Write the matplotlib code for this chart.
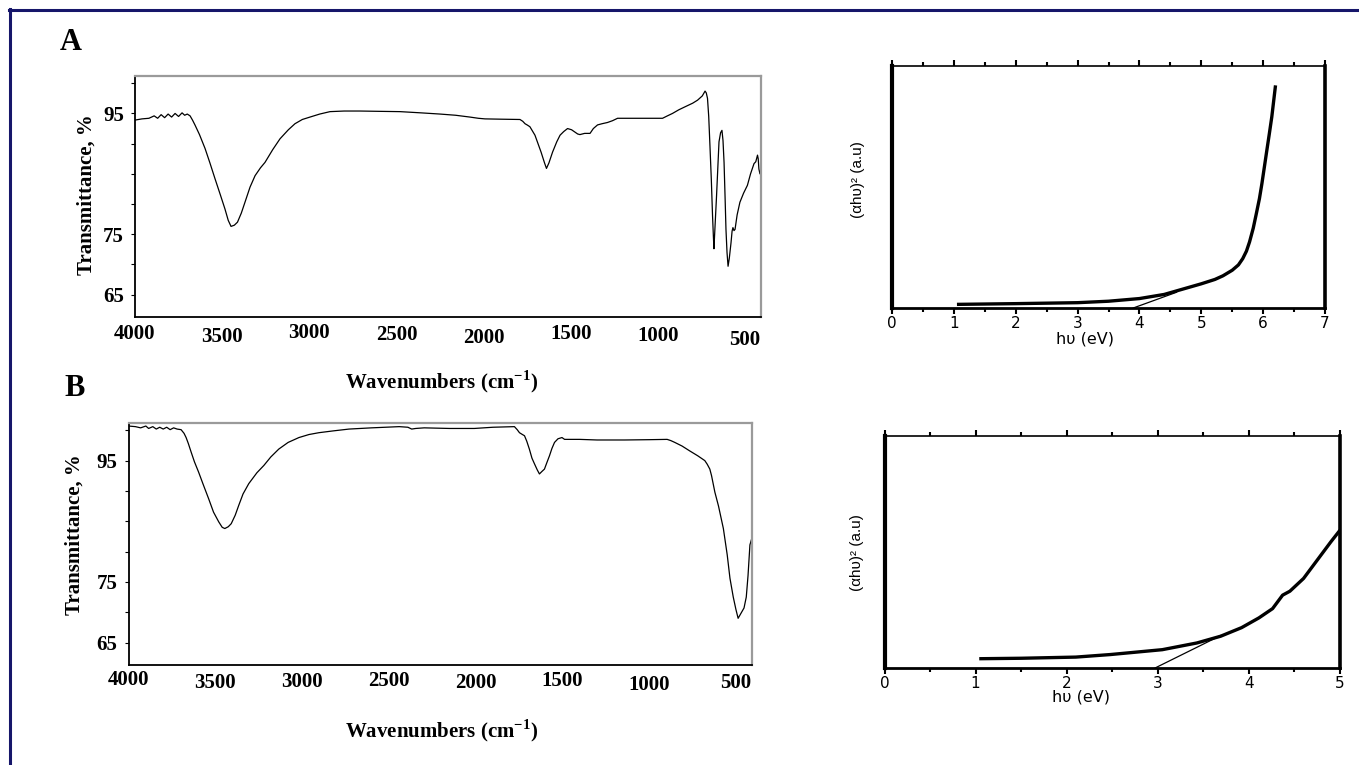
import matplotlib.pyplot as plt
from matplotlib.lines import Line2D
from matplotlib.ticker import MultipleLocator
from matplotlib.transforms import blended_transform_factory

plt.rcParams['mathtext.fontset'] = 'custom'
plt.rcParams['mathtext.rm'] = 'Liberation Serif:bold'
plt.rcParams['mathtext.bf'] = 'Liberation Serif:bold'

W, H = 1359, 765
NAVY = '#16166a'
GREY = '#9a9a9a'

# --- FTIR, panel A ---
wn_a = [4000, 3960, 3920, 3890, 3870, 3850, 3830, 3810, 3790, 3770, 3750, 3730,
        3715, 3700, 3684, 3670, 3656, 3630, 3598, 3570, 3541, 3510, 3484, 3465,
        3449, 3430, 3412, 3390, 3369, 3340, 3311, 3280, 3254, 3210, 3168, 3120,
        3082, 3040, 2996, 2940, 2881, 2800, 2709, 2600, 2479, 2360, 2250, 2160,
        2078, 2030, 1992, 1900, 1791, 1775, 1762, 1750, 1734, 1705, 1670, 1650,
        1639, 1625, 1604, 1580, 1561, 1540, 1518, 1495, 1475, 1460, 1447, 1420,
        1389, 1370, 1346, 1320, 1289, 1260, 1231, 1100, 973, 945, 916, 880, 844,
        800, 772, 745, 729, 722, 715, 708, 701, 693, 686, 681, 678, 674, 663, 655,
        649, 640, 632, 626, 620, 614, 609, 603, 597, 590, 580, 574, 569, 563, 557,
        545, 529, 508, 486, 468, 448, 438, 428, 424, 420, 414, 408]
t_a = [93.9, 94.1, 94.2, 94.6, 94.2, 94.8, 94.3, 94.9, 94.4, 95.0, 94.5, 95.1,
       94.7, 94.9, 94.6, 93.9, 93.1, 91.5, 89.2, 86.8, 84.2, 81.5, 79.2, 77.3,
       76.3, 76.5, 77.0, 78.5, 80.3, 82.8, 84.7, 86.0, 86.9, 89.0, 90.8, 92.3,
       93.3, 94.0, 94.4, 94.9, 95.3, 95.4, 95.4, 95.35, 95.3, 95.1, 94.9, 94.7,
       94.4, 94.2, 94.1, 94.05, 94.0, 93.7, 93.3, 93.1, 92.8, 91.4, 88.6, 86.8,
       85.9, 86.8, 88.6, 90.3, 91.4, 92.0, 92.5, 92.3, 91.9, 91.6, 91.5, 91.7,
       91.7, 92.5, 93.1, 93.3, 93.5, 93.8, 94.2, 94.2, 94.2, 94.6, 95.0, 95.6, 96.1,
       96.7, 97.2, 97.9, 98.7, 98.4, 97.5, 94.5, 89.7, 84.0, 78.0, 74.5, 72.6, 75.0,
       81.4, 86.5, 90.3, 91.8, 92.2, 90.5, 86.9, 81.0, 75.8, 72.0, 69.7, 71.0, 73.6,
       75.5, 76.1, 75.6, 75.8, 78.2, 80.3, 81.8, 83.1, 85.0, 86.7, 87.0, 88.1, 87.5,
       85.8, 85.0, 85.3]

# --- FTIR, panel B ---
wn_b = [4000, 3960, 3930, 3900, 3884, 3860, 3840, 3820, 3800, 3780, 3760, 3740,
        3720, 3697, 3680, 3668, 3655, 3639, 3620, 3596, 3570, 3538, 3510, 3480,
        3460, 3445, 3425, 3408, 3385, 3365, 3340, 3307, 3260, 3220, 3180, 3134,
        3080, 3018, 2960, 2903, 2820, 2729, 2600, 2440, 2390, 2368, 2345, 2296,
        2150, 2007, 1900, 1776, 1760, 1747, 1730, 1718, 1705, 1690, 1675, 1661,
        1645, 1632, 1618, 1603, 1590, 1574, 1560, 1545, 1525, 1502, 1487, 1400,
        1300, 1141, 1000, 896, 875, 852, 810, 766, 720, 679, 665, 650, 640, 621,
        600, 572, 550, 534, 515, 500, 487, 475, 463, 453, 440, 430, 419, 410]
t_b = [100.7, 100.6, 100.4, 100.7, 100.3, 100.6, 100.2, 100.5, 100.2, 100.5,
       100.1, 100.4, 100.2, 100.1, 99.5, 98.8, 97.8, 96.4, 94.8, 93.1, 91.1, 88.7,
       86.5, 84.9, 84.0, 83.8, 84.1, 84.6, 86.0, 87.6, 89.5, 91.2, 93.0, 94.2,
       95.6, 96.9, 98.0, 98.8, 99.3, 99.6, 99.9, 100.2, 100.4, 100.6, 100.5, 100.2,
       100.3, 100.4, 100.3, 100.3, 100.5, 100.6, 100.1, 99.6, 99.3, 99.1, 98.2,
       96.9, 95.4, 94.5, 93.5, 92.8, 93.2, 93.6, 94.6, 95.8, 97.0, 98.0, 98.6, 98.8,
       98.5, 98.5, 98.4, 98.4, 98.45, 98.5, 98.3, 98.0, 97.4, 96.6, 95.8, 95.0, 94.4,
       93.6, 92.5, 89.8, 87.5, 83.8, 79.5, 75.6, 72.5, 70.5, 69.0, 69.6, 70.2, 70.7,
       72.5, 76.0, 81.1, 82.0]

wn_ticks = [4000, 3500, 3000, 2500, 2000, 1500, 1000, 500]
t_ticks = [95, 75, 65]

# --- Tauc plots ---
hv_a = [1.05, 2.0, 3.0, 3.5, 4.0, 4.4, 4.7, 5.0, 5.22, 5.35, 5.5, 5.6, 5.67,
        5.73, 5.78, 5.84, 5.89, 5.94, 5.98, 6.02, 6.06, 6.1, 6.14, 6.17, 6.2]
ahv_a = [0.015, 0.018, 0.022, 0.028, 0.039, 0.056, 0.078, 0.1, 0.118, 0.133,
         0.156, 0.178, 0.204, 0.235, 0.273, 0.33, 0.39, 0.452, 0.514, 0.583,
         0.652, 0.72, 0.79, 0.855, 0.92]
fit_a_x = [3.9, 4.6]
fit_a_y = [0.0, 0.065]

hv_b = [1.04, 1.5, 2.1, 2.48, 3.05, 3.43, 3.69, 3.92, 4.11, 4.26, 4.37, 4.45,
        4.6, 4.75, 4.9, 5.0]
ahv_b = [0.040, 0.042, 0.047, 0.058, 0.079, 0.108, 0.137, 0.174, 0.216, 0.256,
         0.314, 0.331, 0.386, 0.465, 0.544, 0.594]
fit_b_x = [2.97, 3.69]
fit_b_y = [0.0, 0.14]


def box(left, top, right, bottom):
    return [left / W, 1 - bottom / H, (right - left) / W, (bottom - top) / H]


def px(x, y):
    return x / W, 1 - y / H


fig = plt.figure(figsize=(W / 100, H / 100), dpi=100)
fig.patch.set_facecolor('white')

# navy frame (only top and left visible)
fig.add_artist(Line2D([9 / W, 1], [1 - 9.5 / H, 1 - 9.5 / H], color=NAVY, lw=2.2,
                      transform=fig.transFigure))
fig.add_artist(Line2D([9.5 / W, 9.5 / W], [0, 1 - 9 / H], color=NAVY, lw=2.2,
                      transform=fig.transFigure))


def ftir(rect, wn, t, xmax_right, lab_dy, xlab_y, ylab_xy, letter, letter_xy):
    ax = fig.add_axes(rect)
    ax.plot(wn, t, color='black', lw=0.9)
    ax.set_xlim(4000, xmax_right)
    ax.set_ylim(61.3, 101.2)
    for s in ['left', 'bottom']:
        ax.spines[s].set_color('black')
        ax.spines[s].set_linewidth(1.3)
    for s in ['top', 'right']:
        ax.spines[s].set_color(GREY)
        ax.spines[s].set_linewidth(1.6)
    ax.set_yticks(t_ticks)
    ax.set_yticklabels([str(v) for v in t_ticks], family='Liberation Serif',
                       weight='bold', fontsize=15)
    ax.yaxis.set_minor_locator(MultipleLocator(5))
    ax.tick_params(axis='y', which='both', length=3, width=0.8, pad=5)
    ax.set_xticks([])
    trans = blended_transform_factory(ax.transData, ax.transAxes)
    for v, dy in zip(wn_ticks, lab_dy):
        ax.text(v, dy, str(v), transform=trans, ha='center', va='center',
                family='Liberation Serif', weight='bold', fontsize=15)
    fig.text(*px(442, xlab_y), r'Wavenumbers (cm$^{-1}$)', ha='center',
             va='center', family='Liberation Serif', weight='bold', fontsize=15)
    fig.text(*px(*ylab_xy), 'Transmittance, %', rotation=90, ha='center',
             va='center', family='Liberation Serif', weight='bold', fontsize=15)
    fig.text(*px(*letter_xy), letter, ha='center', va='center',
             family='Liberation Serif', weight='bold', fontsize=22)
    return ax


ftir(box(135, 76, 761, 317), wn_a, t_a, 408,
     [-0.07, -0.083, -0.066, -0.075, -0.087, -0.07, -0.078, -0.095],
     382, (87, 195), 'A', (71, 42))
ftir(box(128.5, 423, 752, 665), wn_b, t_b, 407,
     [-0.062, -0.074, -0.07, -0.066, -0.074, -0.066, -0.083, -0.074],
     731, (75, 535), 'B', (75, 388))


def tauc(rect, x, y, fx, fy, xmax, xlab_xy, ylab_xy):
    ax = fig.add_axes(rect)
    ax.plot(x, y, color='black', lw=2.4, solid_capstyle='butt',
            solid_joinstyle='round')
    ax.plot(fx, fy, color='black', lw=0.9)
    ax.set_xlim(0, xmax)
    ax.set_ylim(0, 1)
    ax.spines['left'].set_linewidth(3.0)
    ax.spines['right'].set_linewidth(2.6)
    ax.spines['bottom'].set_linewidth(2.0)
    ax.spines['top'].set_linewidth(1.2)
    ax.set_yticks([])
    ax.xaxis.set_major_locator(MultipleLocator(1))
    ax.xaxis.set_minor_locator(MultipleLocator(0.5))
    ax.tick_params(axis='x', which='both', top=True, direction='out',
                   labelsize=11, pad=2)
    ax.tick_params(axis='x', which='major', length=4, width=1.5)
    ax.tick_params(axis='x', which='minor', length=3, width=1.5)
    for lbl in ax.get_xticklabels():
        lbl.set_family('DejaVu Sans')
    fig.text(*px(*xlab_xy), 'hυ (eV)', ha='center', va='center',
             family='DejaVu Sans', fontsize=11.5)
    fig.text(*px(*ylab_xy), '(αhυ)² (a.u)', rotation=90, ha='center',
             va='center', family='Liberation Sans', fontsize=11)
    return ax


tauc(box(892, 66, 1325, 308), hv_a, ahv_a, fit_a_x, fit_a_y, 7,
     (1085, 339), (858, 180))
tauc(box(884.5, 436, 1340, 668), hv_b, ahv_b, fit_b_x, fit_b_y, 5,
     (1081, 697), (857, 553))

fig.savefig('out.png', dpi=100)
